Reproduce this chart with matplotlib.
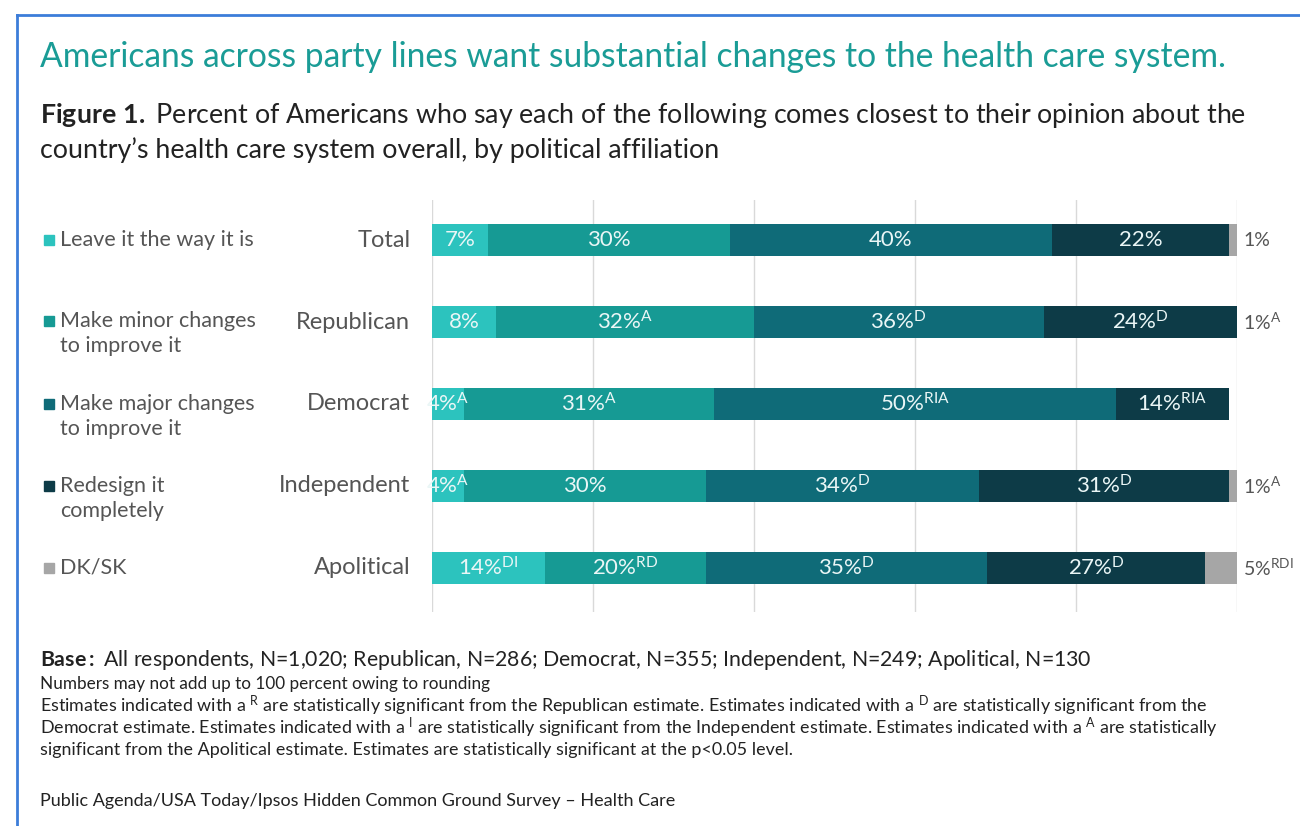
import matplotlib
matplotlib.use('Agg')
import matplotlib.pyplot as plt
from matplotlib.lines import Line2D
import numpy as np

# data
groups = ['Total', 'Republican', 'Democrat', 'Independent', 'Apolitical']
answers = ['Leave it the way it is', 'Make minor changes\nto improve it',
           'Make major changes\nto improve it', 'Redesign it\ncompletely', 'DK/SK']
leave = [7, 8, 4, 4, 14]
minor = [30, 32, 31, 30, 20]
major = [40, 36, 50, 34, 35]
redesign = [22, 24, 14, 31, 27]
dksk = [1, 1, 0, 1, 5]

# significance letters shown as superscripts
sup_leave = ['', '', 'A', 'A', 'DI']
sup_minor = ['', 'A', 'A', '', 'RD']
sup_major = ['', 'D', 'RIA', 'D', 'D']
sup_redesign = ['', 'D', 'RIA', 'D', 'D']
sup_dksk = ['', 'A', '', 'A', 'RDI']

colors = ['#2CC3BE', '#169A94', '#0F6B78', '#0D3B47', '#A6A6A6']

plt.rcParams['font.family'] = ['Lato', 'DejaVu Sans']
plt.rcParams['mathtext.fontset'] = 'custom'
plt.rcParams['mathtext.rm'] = 'Lato'
plt.rcParams['mathtext.it'] = 'Lato'
plt.rcParams['mathtext.bf'] = 'Lato:bold'

W, H = 1300, 826
fig = plt.figure(figsize=(13, 8.26), dpi=100)


def fx(px):
    return px / W


def fy(py):
    return 1 - py / H


def lab(val, sup):
    s = '%d%%' % val
    if sup:
        s += r'$^{\mathrm{%s}}$' % sup
    return s


# frame
fig.add_artist(Line2D([fx(17), fx(17)], [fy(15), 0], color='#3C7DD9', lw=2))
fig.add_artist(Line2D([fx(17), 1], [fy(15), fy(15)], color='#3C7DD9', lw=2))

# headings
fig.text(fx(40), fy(57), 'Americans across party lines want substantial changes to the health care system.',
         color='#1A9C96', fontsize=24.2, va='center')
fig.text(fx(40), fy(116), r'$\mathbf{Figure\ 1.}$ Percent of Americans who say each of the following comes closest to their opinion about the',
         color='#222222', fontsize=19.3, va='center')
fig.text(fx(40), fy(150), 'country\u2019s health care system overall, by political affiliation',
         color='#222222', fontsize=19.3, va='center')

ax = fig.add_axes([fx(432), fy(612), fx(1237) - fx(432), (612 - 200) / H])

y = np.arange(len(groups))
series = [leave, minor, major, redesign, dksk]
sups = [sup_leave, sup_minor, sup_major, sup_redesign, sup_dksk]
left = np.zeros(len(groups))
for i, (vals, col) in enumerate(zip(series, colors)):
    ax.barh(y, vals, left=left, height=0.39, color=col, zorder=2)
    for j, v in enumerate(vals):
        if i < 4:
            ax.text(left[j] + v / 2, y[j], lab(v, sups[i][j]), color='#EAF6F6',
                    fontsize=16, ha='center', va='center', zorder=3)
        elif v > 0:
            ax.text(100.8, y[j], lab(v, sups[i][j]), color='#555555',
                    fontsize=14, ha='left', va='center')
    left += np.array(vals)

ax.set_xlim(0, 100)
ax.set_ylim(4.54, -0.49)
ax.set_xticks(np.arange(0, 101, 20))
ax.grid(axis='x', color='#D9D9D9', lw=1, zorder=0)
ax.tick_params(length=0, labelbottom=False, labelleft=False)
for s in ax.spines.values():
    s.set_visible(False)

# group labels
for j, g in enumerate(groups):
    ax.text(-2.7, y[j], g, color='#555555', fontsize=17, ha='right', va='center')

# legend on the left
leg_y = [240, 321, 404, 486, 568]
for k, (a, col) in enumerate(zip(answers, colors)):
    fig.patches.append(plt.Rectangle((fx(44), fy(leg_y[k] + 5)), fx(10), 10 / H,
                                     color=col, transform=fig.transFigure, figure=fig))
    lines = a.split('\n')
    for n, line in enumerate(lines):
        fig.text(fx(60), fy(leg_y[k] + 25 * n), line, color='#555555', fontsize=15.5, va='center')

# footer
fig.text(fx(40), fy(660), r'$\mathbf{Base{:}}$ All respondents, N=1,020; Republican, N=286; Democrat, N=355; Independent, N=249; Apolitical, N=130',
         color='#222222', fontsize=15.3, va='center')
fig.text(fx(40), fy(684), 'Numbers may not add up to 100 percent owing to rounding',
         color='#222222', fontsize=12.3, va='center')
fig.text(fx(40), fy(706), r'Estimates indicated with a $^{\mathrm{R}}$ are statistically significant from the Republican estimate. Estimates indicated with a $^{\mathrm{D}}$ are statistically significant from the',
         color='#222222', fontsize=12.9, va='center')
fig.text(fx(40), fy(728), r'Democrat estimate. Estimates indicated with a $^{\mathrm{I}}$ are statistically significant from the Independent estimate. Estimates indicated with a $^{\mathrm{A}}$ are statistically',
         color='#222222', fontsize=12.9, va='center')
fig.text(fx(40), fy(750), 'significant from the Apolitical estimate. Estimates are statistically significant at the p<0.05 level.',
         color='#222222', fontsize=12.9, va='center')
fig.text(fx(40), fy(801), 'Public Agenda/USA Today/Ipsos Hidden Common Ground Survey \u2013 Health Care',
         color='#222222', fontsize=13, va='center')

plt.savefig('out.png', dpi=100)
plt.close()
